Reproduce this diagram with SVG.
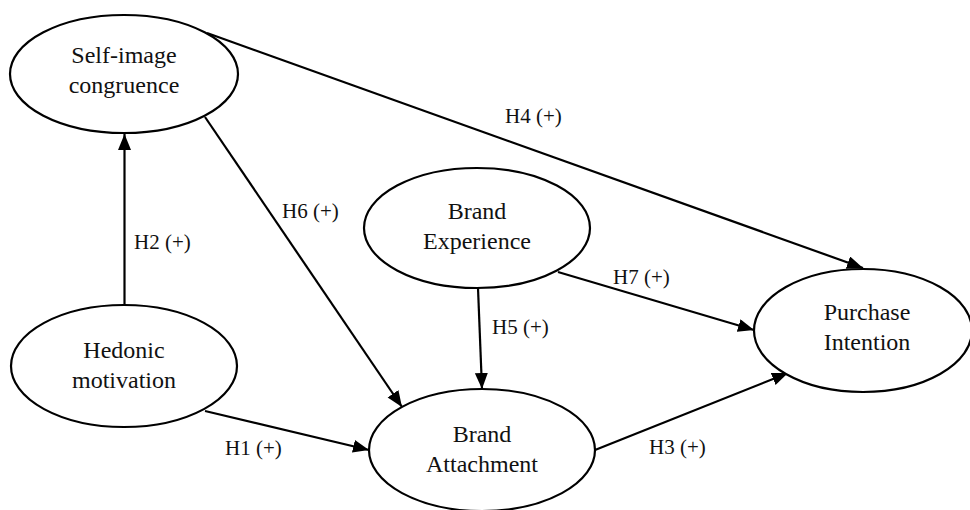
<svg xmlns="http://www.w3.org/2000/svg" width="970" height="510" viewBox="0 0 970 510">
  <style>
    .node ellipse { fill: #ffffff; stroke: #000000; stroke-width: 2.2; }
    .node text { font-family: "Liberation Serif", "Times New Roman", serif; font-size: 24px; fill: #111111; text-anchor: middle; }
    .edge line { stroke: #000000; stroke-width: 2.2; fill: none; }
    .lbl { font-family: "Liberation Serif", "Times New Roman", serif; font-size: 21px; fill: #111111; }
  </style>
  <defs>
    <marker id="arrow" markerUnits="userSpaceOnUse" markerWidth="17" markerHeight="14" refX="16" refY="6.5" orient="auto">
      <path d="M0,0 L16,6.5 L0,13 z" fill="#000000"/>
    </marker>
  </defs>
  <rect x="0" y="0" width="970" height="510" fill="#ffffff"/>

  <g id="connectors" class="edge">
    <line id="e-h2" x1="124.5" y1="305" x2="124.5" y2="134" marker-end="url(#arrow)"/>
    <line id="e-h4" x1="207" y1="33" x2="863" y2="268" marker-end="url(#arrow)"/>
    <line id="e-h6" x1="205" y1="117" x2="402" y2="407" marker-end="url(#arrow)"/>
    <line id="e-h1" x1="205" y1="411" x2="369" y2="450" marker-end="url(#arrow)"/>
    <line id="e-h5" x1="478" y1="288" x2="482" y2="389" marker-end="url(#arrow)"/>
    <line id="e-h7" x1="558" y1="272" x2="754" y2="330" marker-end="url(#arrow)"/>
    <line id="e-h3" x1="595" y1="450" x2="788" y2="373" marker-end="url(#arrow)"/>
  </g>

  <g id="edge-labels">
    <text class="lbl" x="134" y="249">H2 (+)</text>
    <text class="lbl" x="505" y="123">H4 (+)</text>
    <text class="lbl" x="282" y="218">H6 (+)</text>
    <text class="lbl" x="225" y="455">H1 (+)</text>
    <text class="lbl" x="492" y="334">H5 (+)</text>
    <text class="lbl" x="613" y="284">H7 (+)</text>
    <text class="lbl" x="649" y="454">H3 (+)</text>
  </g>

  <g id="self-image-congruence" class="node">
    <ellipse cx="124" cy="74" rx="114" ry="59"/>
    <text x="124" y="63">Self-image</text>
    <text x="124" y="93">congruence</text>
  </g>

  <g id="hedonic-motivation" class="node">
    <ellipse cx="124" cy="366" rx="113" ry="61"/>
    <text x="124" y="358">Hedonic</text>
    <text x="124" y="388">motivation</text>
  </g>

  <g id="brand-experience" class="node">
    <ellipse cx="477" cy="228" rx="113" ry="60"/>
    <text x="477" y="219">Brand</text>
    <text x="477" y="249">Experience</text>
  </g>

  <g id="brand-attachment" class="node">
    <ellipse cx="482" cy="450" rx="113" ry="61"/>
    <text x="482" y="442">Brand</text>
    <text x="482" y="472">Attachment</text>
  </g>

  <g id="purchase-intention" class="node">
    <ellipse cx="863" cy="330.5" rx="109" ry="61.5"/>
    <text x="867" y="320">Purchase</text>
    <text x="867" y="350">Intention</text>
  </g>
</svg>
